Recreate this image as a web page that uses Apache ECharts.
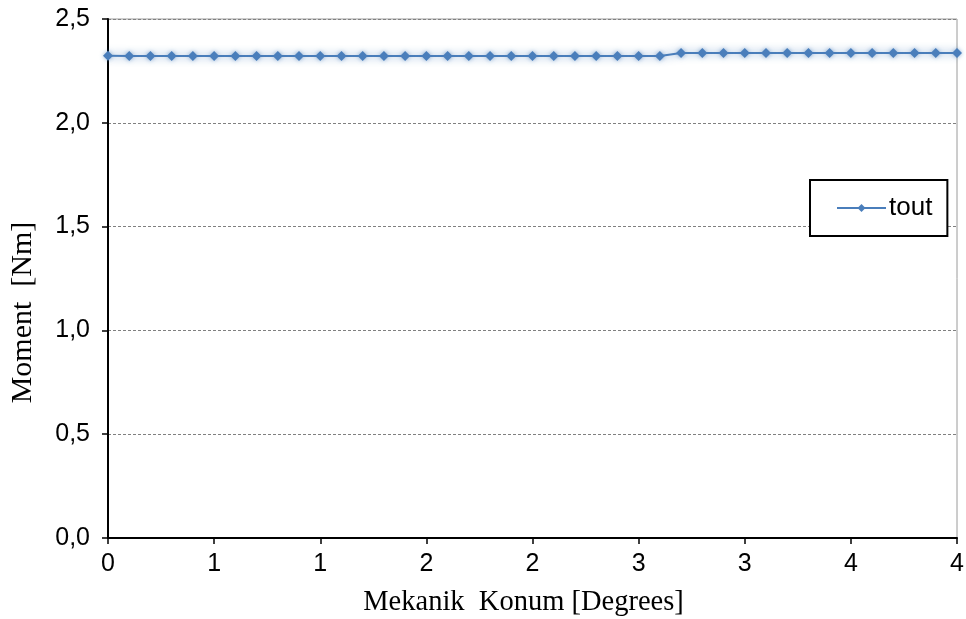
<!DOCTYPE html>
<html>
<head>
<meta charset="utf-8">
<script src="https://cdn.jsdelivr.net/npm/echarts@6/dist/echarts.min.js"></script>
<style>
  html, body { margin: 0; padding: 0; background: #fff; }
  #chart { width: 966px; height: 619px; }
</style>
</head>
<body>
<div id="chart"></div>
<script>
// Mechanical position (degrees) and output torque samples
const positions = [
  0.0, 0.1, 0.2, 0.3, 0.4, 0.5, 0.6, 0.7, 0.8, 0.9,
  1.0, 1.1, 1.2, 1.3, 1.4, 1.5, 1.6, 1.7, 1.8, 1.9,
  2.0, 2.1, 2.2, 2.3, 2.4, 2.5, 2.6, 2.7, 2.8, 2.9,
  3.0, 3.1, 3.2, 3.3, 3.4, 3.5, 3.6, 3.7, 3.8, 3.9, 4.0
];
const tout = [
  2.323, 2.322, 2.322, 2.322, 2.322, 2.322, 2.322, 2.322, 2.322, 2.322,
  2.322, 2.322, 2.322, 2.322, 2.322, 2.322, 2.322, 2.322, 2.322, 2.322,
  2.322, 2.322, 2.322, 2.322, 2.322, 2.322, 2.322, 2.336, 2.336, 2.336,
  2.336, 2.336, 2.336, 2.336, 2.336, 2.336, 2.336, 2.336, 2.336, 2.336, 2.336
];
// Tick labels as printed with zero decimals (0.5 steps rounded)
const xTickLabels = ['0', '1', '1', '2', '2', '3', '3', '4', '4'];
const yTickLabels = ['0,0', '0,5', '1,0', '1,5', '2,0', '2,5'];

const chart = echarts.init(document.getElementById('chart'));
chart.setOption({
  animation: false,
  backgroundColor: '#fff',
  grid: {
    left: 108, right: 9, top: 19, bottom: 81,
    containLabel: false,
    outerBoundsMode: 'none',
    show: true, borderColor: '#9a9a9a', borderWidth: 1
  },
  legend: {
    left: 810, top: 180,
    padding: [15, 15, 15, 26],
    borderColor: '#000', borderWidth: 2,
    backgroundColor: '#fff',
    itemWidth: 49, itemHeight: 10, itemGap: 2,
    textStyle: { fontFamily: 'Liberation Sans', fontSize: 26, color: '#000', padding: [0, 0, 0, -2] },
    data: ['tout']
  },
  xAxis: {
    type: 'value', min: 0, max: 4, interval: 0.5,
    name: 'Mekanik  Konum [Degrees]',
    nameLocation: 'middle', nameGap: 50,
    nameTextStyle: {
      fontFamily: 'Liberation Serif', fontSize: 28.5, color: '#000',
      padding: [0, 18, 0, 0]
    },
    axisLine: { show: true, lineStyle: { color: '#000', width: 2 } },
    axisTick: { show: true, length: 6, lineStyle: { color: '#000', width: 1.5 } },
    axisLabel: {
      fontFamily: 'Liberation Sans', fontSize: 25, color: '#000', margin: 14,
      formatter: v => xTickLabels[Math.round(v / 0.5)]
    },
    splitLine: { show: false }
  },
  yAxis: {
    type: 'value', min: 0, max: 2.5, interval: 0.5,
    name: 'Moment  [Nm]',
    nameLocation: 'middle', nameGap: 70,
    nameTextStyle: {
      fontFamily: 'Liberation Serif', fontSize: 30, color: '#000',
      padding: [0, 68, 0, 0]
    },
    axisLine: { show: true, lineStyle: { color: '#000', width: 2 } },
    axisTick: { show: true, inside: false, length: 6, lineStyle: { color: '#000', width: 1.5 } },
    axisLabel: {
      fontFamily: 'Liberation Sans', fontSize: 25, color: '#000', margin: 18,
      formatter: v => yTickLabels[Math.round(v / 0.5)]
    },
    splitLine: { show: true, lineStyle: { color: '#808080', width: 1, type: [3, 2] } }
  },
  series: [{
    name: 'tout',
    type: 'line',
    data: positions.map((x, i) => [x, tout[i]]),
    symbol: 'diamond', symbolSize: 10,
    itemStyle: {
      color: '#4a7ebb',
      shadowColor: 'rgba(74,126,187,0.6)', shadowBlur: 4
    },
    lineStyle: {
      color: '#4a7ebb', width: 2,
      shadowColor: 'rgba(74,126,187,0.85)', shadowBlur: 8
    },
    z: 3
  }]
});
</script>
</body>
</html>
